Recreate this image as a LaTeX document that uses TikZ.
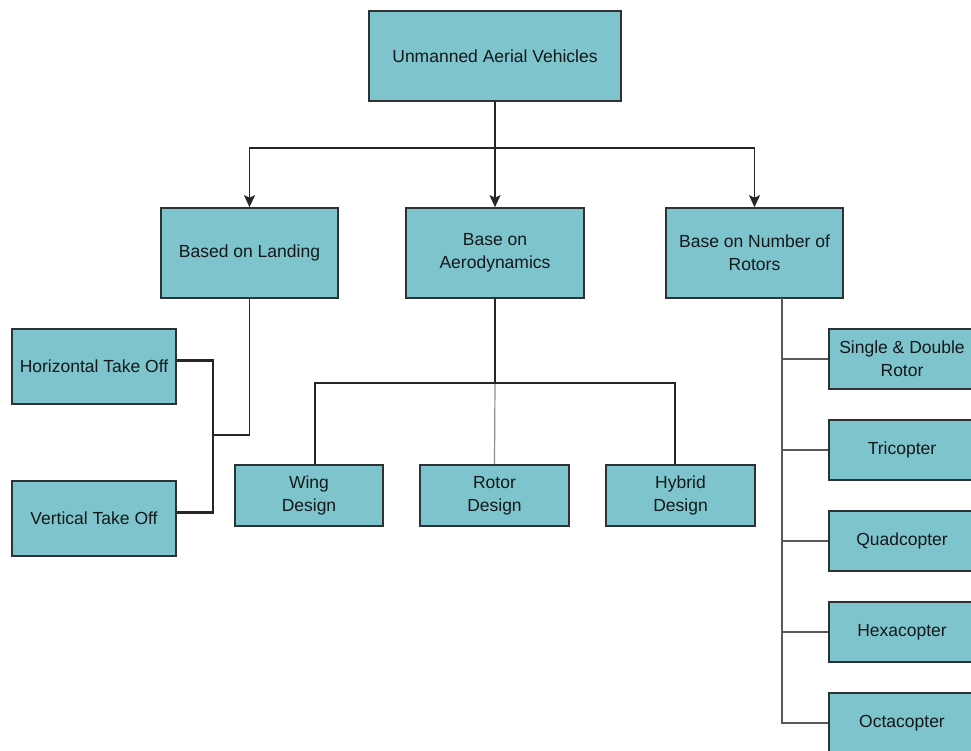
\documentclass[tikz,border=0pt]{standalone}
\usepackage{fontspec}
\setmainfont{Liberation Sans}
\usetikzlibrary{arrows.meta}
\definecolor{boxfill}{RGB}{126,196,205}
\definecolor{boxline}{RGB}{45,50,52}
\definecolor{txt}{RGB}{20,24,26}
\tikzset{
  box/.style={draw=boxline, line width=1.6pt, fill=boxfill, rectangle, align=center,
    text=txt, font=\fontsize{17.5}{23}\selectfont, inner sep=0pt},
  conn/.style={draw=black!85, line width=1.6pt},
  connarrow/.style={conn, -{Stealth[length=12pt,width=11pt,inset=2.5pt]}},
  heavy/.style={draw=black!85, line width=2.8pt},
  light/.style={draw=black!45, line width=1.2pt},
  spine/.style={draw=black!65, line width=1.6pt}
}
\begin{document}
\begin{tikzpicture}[x=1pt,y=-1pt]
\useasboundingbox (0,0) rectangle (971,751);
\clip (0,0) rectangle (971,751);
\fill[white] (0,0) rectangle (971,751);

% nodes
\node[box, minimum width=252, minimum height=90] (uav) at (495,56) {Unmanned Aerial Vehicles};
\node[box, minimum width=177, minimum height=90] (land) at (249.5,253) {Based on Landing};
\node[box, minimum width=178, minimum height=90] (aero) at (495,253) {Base on\\Aerodynamics};
\node[box, minimum width=177, minimum height=90] (rot) at (754.5,253) {Base on Number of\\Rotors};

\node[box, minimum width=164, minimum height=75] (hto) at (94,366.5) {Horizontal Take Off};
\node[box, minimum width=164, minimum height=75] (vto) at (94,518.5) {Vertical Take Off};

\node[box, minimum width=148, minimum height=61] (wing) at (309,495.5) {Wing\\Design};
\node[box, minimum width=149, minimum height=61] (rotd) at (494.5,495.5) {Rotor\\Design};
\node[box, minimum width=149, minimum height=61] (hyb) at (680.5,495.5) {Hybrid\\Design};

\node[box, minimum width=146, minimum height=60] (sd) at (902,359) {Single \& Double\\Rotor};
\node[box, minimum width=146, minimum height=60] (tri) at (902,450) {Tricopter};
\node[box, minimum width=146, minimum height=60] (quad) at (902,541) {Quadcopter};
\node[box, minimum width=146, minimum height=60] (hex) at (902,632) {Hexacopter};
\node[box, minimum width=146, minimum height=60] (oct) at (902,723) {Octacopter};

% top level connectors
\coordinate (j1) at (495,148);
\draw[conn] (uav.south) -- (j1);
\draw[connarrow] (j1) -| (land.north);
\draw[connarrow] (j1) -- (aero.north);
\draw[connarrow] (j1) -| (rot.north);

% landing
\coordinate (j2) at (213,435);
\draw[conn] (land.south) |- (j2);
\draw[heavy] ([yshift=6]hto.east) -| (j2) |- ([yshift=6]vto.east);

% aerodynamics
\coordinate (j3) at (495,383);
\draw[light] (j3) -- (rotd.north);
\draw[heavy] (aero.south) -- (j3);
\draw[heavy] ([xshift=6]wing.north) |- (j3) -| ([xshift=-5.5]hyb.north);

% rotors
\coordinate (sp) at (782,298);
\draw[spine] (sp) |- (oct.west);
\foreach \n in {sd,tri,quad,hex} \draw[spine] (\n.west) -- (\n.west -| sp);
\end{tikzpicture}
\end{document}
